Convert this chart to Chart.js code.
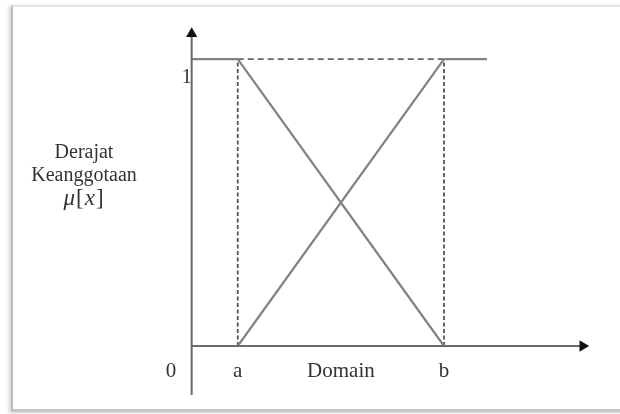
<!DOCTYPE html>
<html>
<head>
<meta charset="utf-8">
<script src="https://cdn.jsdelivr.net/npm/chart.js@4.4.1/dist/chart.umd.min.js"></script>
<style>
  html, body { margin: 0; padding: 0; background: #fff; }
  #wrap { position: relative; width: 620px; height: 414px; overflow: hidden; }
  #frame {
    position: absolute; left: 11px; top: 5px; width: 660px; height: 402px;
    border-left: 2px solid #bdbdbd; border-top: 2px solid #e6e6e6; border-bottom: 3px solid #c6c6c6;
    box-shadow: -2px 1px 4px rgba(0,0,0,0.18);
  }
  #chart { position: absolute; left: 0; top: 0; }
</style>
</head>
<body>
<div id="wrap">
  <div id="frame"></div>
  <canvas id="chart" width="620" height="414"></canvas>
</div>
<script>
// titik domain (a, b) dan ujung garis
const A = 11.6;
const B = 63.5;
const TOP_END = 74.3;
const X_ARROW = 98.4;
const Y_ARROW = 1.088;
const Y_BELOW = -0.171;

// fungsi keanggotaan turun & naik
const fallX = [0, A, B];
const fallY = [1, 1, 0];
const riseX = [A, B, TOP_END];
const riseY = [0, 1, 1];

// label sumbu
const xTickValues = [-5.2, A, (A + B) / 2, B];
const xTickLabels = ['0', 'a', 'Domain', 'b'];
const yTickValues = [0.935];
const yTickLabels = ['1'];
const yTitle = ['Derajat', 'Keanggotaan'];

const LINE = '#828282';
const AXIS = '#6a6a6a';
const TEXT = '#333';
const FONT = '"Liberation Serif", "Times New Roman", serif';

const pts = (xs, ys) => xs.map((x, i) => ({ x: x, y: ys[i] }));

const yLabelPlugin = {
  id: 'yLabel',
  afterDraw(chart) {
    const ctx = chart.ctx;
    ctx.save();
    ctx.fillStyle = TEXT;
    ctx.textAlign = 'center';
    ctx.textBaseline = 'middle';
    ctx.font = '20px ' + FONT;
    ctx.fillText(yTitle[0], 84, 153);
    ctx.fillText(yTitle[1], 84, 176);
    // mu[x]
    const parts = [['μ', 'italic'], ['[', ''], ['x', 'italic'], [']', '']];
    let total = 0;
    const widths = parts.map(p => {
      ctx.font = (p[1] ? p[1] + ' ' : '') + '23px ' + FONT;
      const w = ctx.measureText(p[0]).width + 1;
      total += w;
      return w;
    });
    let x = 84 - total / 2;
    ctx.textAlign = 'left';
    parts.forEach((p, i) => {
      ctx.font = (p[1] ? p[1] + ' ' : '') + '23px ' + FONT;
      ctx.fillText(p[0], x, 199);
      x += widths[i];
    });
    ctx.restore();
  }
};

const ctx = document.getElementById('chart').getContext('2d');
new Chart(ctx, {
  type: 'scatter',
  data: {
    datasets: [
      {
        label: 'sumbu y',
        data: [{ x: 0, y: Y_BELOW }, { x: 0, y: Y_ARROW }],
        borderColor: AXIS, backgroundColor: '#111', borderWidth: 2,
        pointStyle: 'triangle', pointRadius: [0, 6.5], pointRotation: 0, pointBorderWidth: 0
      },
      {
        label: 'sumbu x',
        data: [{ x: 0, y: 0 }, { x: X_ARROW, y: 0 }],
        borderColor: AXIS, backgroundColor: '#111', borderWidth: 2,
        pointStyle: 'triangle', pointRadius: [0, 6.5], pointRotation: 90, pointBorderWidth: 0
      },
      {
        label: 'turun',
        data: pts(fallX, fallY),
        borderColor: LINE, borderWidth: 2.2, pointRadius: 0
      },
      {
        label: 'naik',
        data: pts(riseX, riseY),
        borderColor: LINE, borderWidth: 2.2, pointRadius: 0
      },
      {
        label: 'garis a',
        data: pts([A, A], [0, 1]),
        borderColor: '#555', borderWidth: 1.8, borderDash: [4, 2.5], pointRadius: 0
      },
      {
        label: 'garis b',
        data: pts([B, B], [0, 1]),
        borderColor: '#555', borderWidth: 1.8, borderDash: [4, 2.5], pointRadius: 0
      },
      {
        label: 'garis atas',
        data: pts([A, B], [1, 1]),
        borderColor: '#666', borderWidth: 1.8, borderDash: [6, 4], pointRadius: 0
      }
    ].map(d => Object.assign({ showLine: true, clip: false, fill: false, tension: 0 }, d))
  },
  options: {
    responsive: false,
    animation: false,
    layout: { padding: { left: 140, right: 19, top: 16, bottom: 68 } },
    plugins: { legend: { display: false }, tooltip: { enabled: false } },
    scales: {
      x: {
        type: 'linear', min: -13, max: 103,
        position: { y: 0 },
        grid: { display: false, drawTicks: false },
        border: { display: false },
        afterBuildTicks: s => { s.ticks = xTickValues.map(v => ({ value: v })); },
        ticks: {
          autoSkip: false, maxRotation: 0, padding: 13,
          color: TEXT, font: { family: FONT, size: 21 },
          callback: v => xTickLabels[xTickValues.indexOf(v)]
        }
      },
      y: {
        type: 'linear', min: 0, max: 1.15,
        position: { x: 0 },
        grid: { display: false, drawTicks: false },
        border: { display: false },
        afterBuildTicks: s => { s.ticks = yTickValues.map(v => ({ value: v })); },
        ticks: {
          autoSkip: false, padding: 3,
          color: TEXT, font: { family: FONT, size: 20 },
          callback: v => yTickLabels[yTickValues.indexOf(v)]
        }
      }
    }
  },
  plugins: [yLabelPlugin]
});
</script>
</body>
</html>
